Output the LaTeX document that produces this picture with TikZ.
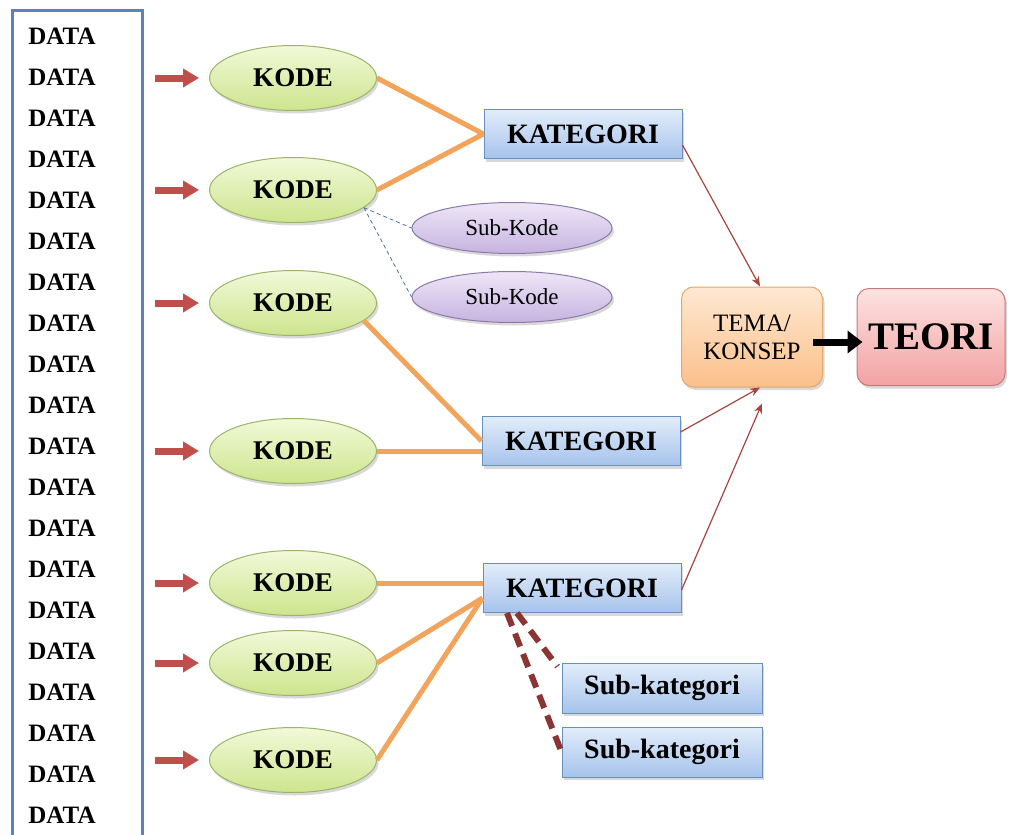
\documentclass[tikz,border=0pt]{standalone}
\usepackage{fontspec}
\setmainfont{Liberation Serif}
\usetikzlibrary{arrows.meta,shapes.geometric,shadows}
\definecolor{databorder}{HTML}{5F82B6}
\definecolor{kodetop}{HTML}{F2F9D8}
\definecolor{kodebot}{HTML}{CDE58E}
\definecolor{kodeline}{HTML}{9AB46C}
\definecolor{subtop}{HTML}{EEE6F7}
\definecolor{subbot}{HTML}{C6B4E0}
\definecolor{subline}{HTML}{8A7AAA}
\definecolor{kattop}{HTML}{E2EDFA}
\definecolor{katbot}{HTML}{A6C3EC}
\definecolor{katline}{HTML}{6A8EBE}
\definecolor{tematop}{HTML}{FEE8D2}
\definecolor{temabot}{HTML}{FBC08A}
\definecolor{temaline}{HTML}{E2A86E}
\definecolor{teoritop}{HTML}{FDE2E2}
\definecolor{teoribot}{HTML}{F3A2A2}
\definecolor{teoriline}{HTML}{C27C7C}
\definecolor{inred}{HTML}{BE4F4A}
\definecolor{linkorange}{HTML}{F2A45C}
\definecolor{linkbrown}{HTML}{A5453F}
\definecolor{subdash}{HTML}{8A3434}
\definecolor{kodedash}{HTML}{4F70A4}

\begin{document}
\begin{tikzpicture}[x=1pt,y=-1pt]
		\tikzstyle{every node}+=[inner sep=0pt]
		\tikzstyle{castshadow}=[drop shadow={shadow xshift=2pt,shadow yshift=-3pt,opacity=0.3}]
		\tikzstyle{databox}=[draw=databorder,line width=3pt,minimum width=130pt,minimum height=827pt]
		\tikzstyle{datatext}=[font=\bfseries\fontsize{25}{25}\selectfont]
		\tikzstyle{kode}=[ellipse,draw=kodeline,line width=1pt,top color=kodetop,bottom color=kodebot,minimum width=167pt,minimum height=65pt,font=\bfseries\fontsize{27}{27}\selectfont,castshadow]
		\tikzstyle{subkode}=[ellipse,draw=subline,line width=1pt,top color=subtop,bottom color=subbot,minimum width=200pt,minimum height=51pt,font=\fontsize{23}{23}\selectfont,castshadow]
		\tikzstyle{kategori}=[rectangle,draw=katline,line width=1pt,top color=kattop,bottom color=katbot,minimum width=198pt,minimum height=49pt,font=\bfseries\fontsize{28}{28}\selectfont,castshadow]
		\tikzstyle{subkat}=[kategori,minimum width=200pt,minimum height=50pt]
		\tikzstyle{tema}=[rectangle,rounded corners=12pt,draw=temaline,line width=1pt,top color=tematop,bottom color=temabot,minimum width=141pt,minimum height=100pt,align=center,font=\fontsize{25}{28}\selectfont,castshadow]
		\tikzstyle{teori}=[rectangle,rounded corners=12pt,draw=teoriline,line width=1pt,top color=teoritop,bottom color=teoribot,minimum width=148pt,minimum height=97pt,font=\bfseries\fontsize{39}{39}\selectfont,castshadow]
		\tikzstyle{inarrow}=[inred,line width=7pt,-{Triangle[length=16pt,width=18pt]},shorten <=11pt,shorten >=10pt]
		\tikzstyle{link}=[linkorange,line width=5pt]
		\tikzstyle{toTema}=[linkbrown,line width=1.2pt,-{Stealth[length=10pt,width=8pt]}]
		\tikzstyle{subdashed}=[kodedash,line width=0.8pt,dash pattern=on 4pt off 3pt]
		\tikzstyle{catdashed}=[subdash,line width=6pt,dash pattern=on 14pt off 8pt]
		\tikzstyle{bigarrow}=[black,line width=7pt,-{Triangle[length=15pt,width=22pt]}]
		\useasboundingbox (0,0) rectangle (1009,835);
		\node[databox] (data) at (77,423.5) {};
		\foreach \i in {0,...,19}
			\node[datatext] (d\i) at (62,{36+41*\i}) {DATA};
		\foreach \n/\y in {1/78,2/190,3/303,4/451,5/583,6/663,7/760} {
			\node[kode] (k\n) at (293,\y) {KODE};
			\draw[inarrow] (data.east |- k\n.west) -- (k\n.west);
		}
		\node[kategori] (kat1) at (583,134) {KATEGORI};
		\node[kategori] (kat2) at (581,441) {KATEGORI};
		\node[kategori] (kat3) at (582,588) {KATEGORI};
		\node[subkode] (sk1) at (512,228) {Sub-Kode};
		\node[subkode] (sk2) at (512,297) {Sub-Kode};
		\node[subkat] (sc1) at (662,688) {Sub-kategori};
		\node[subkat] (sc2) at (662,752) {Sub-kategori};
		\node[tema] (tema) at (752,337) {TEMA/\\KONSEP};
		\node[teori] (teori) at (931,337) {TEORI};
		\draw[link] (k1.east) -- (kat1.west);
		\draw[link] (k2.east) -- (kat1.west);
		\draw[link] (k3.-14) -- (kat2.west);
		\draw[link] (k4.east) -- (k4.east -| kat2.west);
		\draw[link] (k5.east) -- (k5.east -| kat3.west);
		\draw[link] (k6.east) -- ([yshift=-10pt]kat3.west);
		\draw[link] (k7.east) -- ([yshift=-10pt]kat3.west);
		\draw[subdashed] (k2.-14) -- (sk1.west);
		\draw[subdashed] (k2.-14) -- (sk2.west);
		\draw[catdashed] ([xshift=-65pt]kat3.south) -- ([xshift=-4pt,yshift=-4pt]sc1.north west);
		\draw[catdashed] ([xshift=-75pt]kat3.south) -- (sc2.west);
		\draw[toTema] ([yshift=-11pt]kat1.east) -- ([xshift=8pt]tema.north);
		\draw[toTema] ([yshift=9pt]kat2.east) -- ([xshift=8pt]tema.south);
		\draw[toTema] ([yshift=-2pt]kat3.east) -- ([xshift=10pt,yshift=-16pt]tema.south);
		\draw[bigarrow] ([xshift=-10pt,yshift=-5pt]tema.east) -- ([xshift=6pt,yshift=-5pt]teori.west);
	\end{tikzpicture}
\end{document}
